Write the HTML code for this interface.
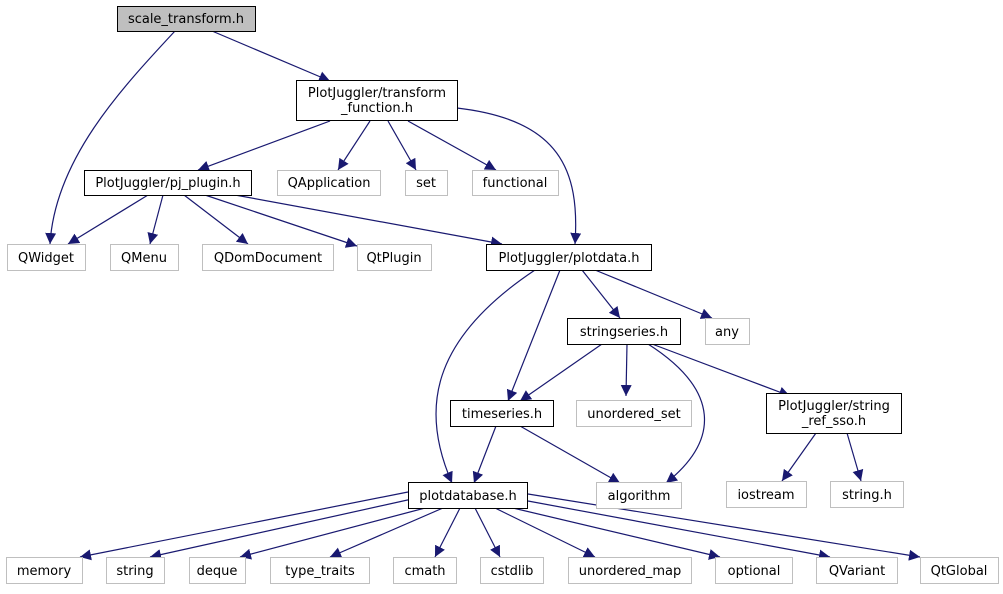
<!DOCTYPE html>
<html><head><meta charset="utf-8"><style>
body{margin:0;background:#fff;width:1003px;height:589px;overflow:hidden}
svg text{font-family:"DejaVu Sans","Liberation Sans",sans-serif;font-size:13px;fill:#000}
</style></head><body>
<svg width="1003" height="589" viewBox="0 0 1003 589" xmlns="http://www.w3.org/2000/svg">
<defs><marker id="a" viewBox="0 0 10 10" refX="10" refY="5" markerWidth="11" markerHeight="11" markerUnits="userSpaceOnUse" orient="auto"><path d="M0,0 L10,5 L0,10 z" fill="#191970"/></marker></defs>
<g fill="none" stroke="#191970" stroke-width="1.2" marker-end="url(#a)">
<path d="M175,31 C120,90 55,160 50,244"/>
<path d="M212,31 L330,81"/>
<path d="M330,121 L198,170"/>
<path d="M370,121 L338,170"/>
<path d="M388,121 L416,170"/>
<path d="M408,121 L496,170"/>
<path d="M457,108 C560,120 580,170 575,244"/>
<path d="M148,195 L68,244"/>
<path d="M163,195 L150,244"/>
<path d="M184,195 L248,244"/>
<path d="M205,195 L357,246"/>
<path d="M235,195 L502,244"/>
<path d="M535,270 C430,340 420,410 452,483"/>
<path d="M560,270 L508,401"/>
<path d="M582,270 L620,318"/>
<path d="M595,270 L712,318"/>
<path d="M602,344 L520,401"/>
<path d="M627,344 L626,396"/>
<path d="M648,344 C720,390 720,440 666,483"/>
<path d="M652,344 L790,396"/>
<path d="M496,426 L474,483"/>
<path d="M520,426 L620,483"/>
<path d="M816,433 L782,481"/>
<path d="M847,433 L861,481"/>
<path d="M408,492 L80,557"/>
<path d="M412,499 L150,557"/>
<path d="M425,508 L240,557"/>
<path d="M443,508 L330,557"/>
<path d="M460,508 L435,557"/>
<path d="M475,508 L500,557"/>
<path d="M495,508 L595,557"/>
<path d="M513,508 L720,557"/>
<path d="M528,501 L830,557"/>
<path d="M528,494 L920,557"/>
</g>
<g stroke="#000" stroke-width="1" fill="#fff">
<rect x="117.5" y="6.5" width="138" height="25" fill="#bfbfbf"/>
<rect x="296.5" y="80.5" width="161" height="40"/>
<rect x="84.5" y="170.5" width="167" height="25"/>
<rect x="486.5" y="244.5" width="165" height="26"/>
<rect x="567.5" y="318.5" width="113" height="26"/>
<rect x="450.5" y="400.5" width="103" height="26"/>
<rect x="766.5" y="393.5" width="135" height="40"/>
<rect x="408.5" y="482.5" width="119" height="26"/>
</g>
<g stroke="#bfbfbf" stroke-width="1" fill="#fff">
<rect x="277.5" y="170.5" width="103" height="25"/>
<rect x="405.5" y="170.5" width="42" height="25"/>
<rect x="472.5" y="170.5" width="86" height="25"/>
<rect x="7.5" y="244.5" width="78" height="26"/>
<rect x="110.5" y="244.5" width="68" height="26"/>
<rect x="202.5" y="244.5" width="131" height="26"/>
<rect x="357.5" y="244.5" width="74" height="26"/>
<rect x="705.5" y="318.5" width="44" height="26"/>
<rect x="576.5" y="400.5" width="115" height="26"/>
<rect x="596.5" y="482.5" width="85" height="26"/>
<rect x="726.5" y="481.5" width="80" height="26"/>
<rect x="830.5" y="481.5" width="73" height="26"/>
<rect x="6.5" y="557.5" width="76" height="26"/>
<rect x="106.5" y="557.5" width="58" height="26"/>
<rect x="189.5" y="557.5" width="56" height="26"/>
<rect x="270.5" y="557.5" width="99" height="26"/>
<rect x="393.5" y="557.5" width="63" height="26"/>
<rect x="480.5" y="557.5" width="63" height="26"/>
<rect x="568.5" y="557.5" width="123" height="26"/>
<rect x="715.5" y="557.5" width="77" height="26"/>
<rect x="816.5" y="557.5" width="81" height="26"/>
<rect x="920.5" y="557.5" width="78" height="26"/>
</g>
<g text-anchor="middle">
<text x="186" y="23">scale_transform.h</text>
<text x="377" y="97">PlotJuggler/transform</text>
<text x="377" y="112">_function.h</text>
<text x="168" y="187">PlotJuggler/pj_plugin.h</text>
<text x="329" y="187">QApplication</text>
<text x="426" y="187">set</text>
<text x="515" y="187">functional</text>
<text x="46" y="262">QWidget</text>
<text x="144" y="262">QMenu</text>
<text x="268" y="262">QDomDocument</text>
<text x="394" y="262">QtPlugin</text>
<text x="569" y="262">PlotJuggler/plotdata.h</text>
<text x="624" y="336">stringseries.h</text>
<text x="727" y="336">any</text>
<text x="502" y="418">timeseries.h</text>
<text x="634" y="418">unordered_set</text>
<text x="834" y="410">PlotJuggler/string</text>
<text x="834" y="425">_ref_sso.h</text>
<text x="468" y="500">plotdatabase.h</text>
<text x="639" y="500">algorithm</text>
<text x="766" y="499">iostream</text>
<text x="867" y="499">string.h</text>
<text x="44" y="575">memory</text>
<text x="135" y="575">string</text>
<text x="217" y="575">deque</text>
<text x="320" y="575">type_traits</text>
<text x="425" y="575">cmath</text>
<text x="512" y="575">cstdlib</text>
<text x="630" y="575">unordered_map</text>
<text x="754" y="575">optional</text>
<text x="857" y="575">QVariant</text>
<text x="959" y="575">QtGlobal</text>
</g>
</svg>
</body></html>
